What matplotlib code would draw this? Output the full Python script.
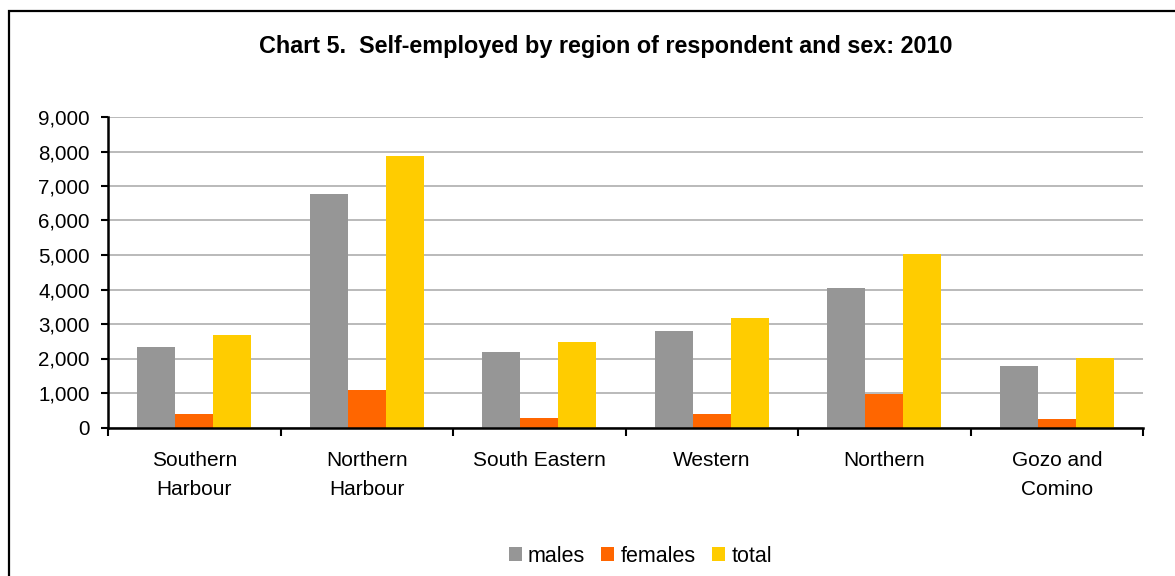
import matplotlib
matplotlib.use("Agg")
import matplotlib.pyplot as plt
import numpy as np
from matplotlib.patches import Rectangle
from matplotlib.ticker import FuncFormatter

regions = ["Southern\nHarbour", "Northern\nHarbour", "South Eastern", "Western",
           "Northern", "Gozo and\nComino"]
males = [2330, 6770, 2200, 2790, 4030, 1770]
females = [390, 1090, 270, 380, 960, 240]
total = [2680, 7870, 2470, 3160, 5020, 2010]

plt.rcParams['font.family'] = ['Liberation Sans', 'DejaVu Sans']

fig = plt.figure(figsize=(11.75, 5.76), dpi=100)
ax = fig.add_axes([108 / 1175, 1 - 427.5 / 576, (1143 - 108) / 1175, (427.5 - 117) / 576])

x = np.arange(len(regions))
w = 0.22
ax.bar(x - w, males, w, color="#969696", label="males", zorder=3)
ax.bar(x, females, w, color="#ff6600", label="females", zorder=3)
ax.bar(x + w, total, w, color="#ffcc00", label="total", zorder=3)

ax.set_xlim(-0.5, len(regions) - 0.5)
ax.set_ylim(0, 9000)
ax.set_yticks(range(0, 9001, 1000))
ax.yaxis.set_major_formatter(FuncFormatter(lambda v, p: f"{int(v):,}"))
ax.grid(axis="y", color="#b4b4b4", linewidth=1.3, zorder=0)

# category boundaries get the tick marks, centres get the labels
ax.set_xticks(np.arange(-0.5, len(regions)), labels=[""] * (len(regions) + 1))
ax.set_xticks(x, labels=regions, minor=True)
ax.tick_params(axis="x", which="major", length=6, width=1.5, direction="out")
ax.tick_params(axis="x", which="minor", length=0, pad=17, labelsize=15)
for t in ax.get_xticklabels(minor=True):
    t.set_linespacing(1.65)
ax.tick_params(axis="y", length=5, width=1.5, labelsize=14.8, pad=8)

for s in ["top", "right"]:
    ax.spines[s].set_visible(False)
for s in ["left", "bottom"]:
    ax.spines[s].set_linewidth(1.8)
    ax.spines[s].set_zorder(4)

fig.text(606 / 1175, 1 - 46 / 576, "Chart 5.  Self-employed by region of respondent and sex: 2010",
         ha="center", va="center", fontsize=16.8, fontweight="bold")

fig.legend(loc="center", bbox_to_anchor=(0.545, 1 - 556 / 576), ncol=3, frameon=False,
           fontsize=15.5, handlelength=0.6, handleheight=0.6, handletextpad=0.3,
           columnspacing=0.75)

# outer chart frame (only top and left visible in the crop)
fig.patches.append(Rectangle((8.5 / 1175, -0.1), 1.2, 1.1 - 11.5 / 576,
                             transform=fig.transFigure, fill=False,
                             edgecolor="black", linewidth=1.6))

fig.savefig("out.png", dpi=100)
